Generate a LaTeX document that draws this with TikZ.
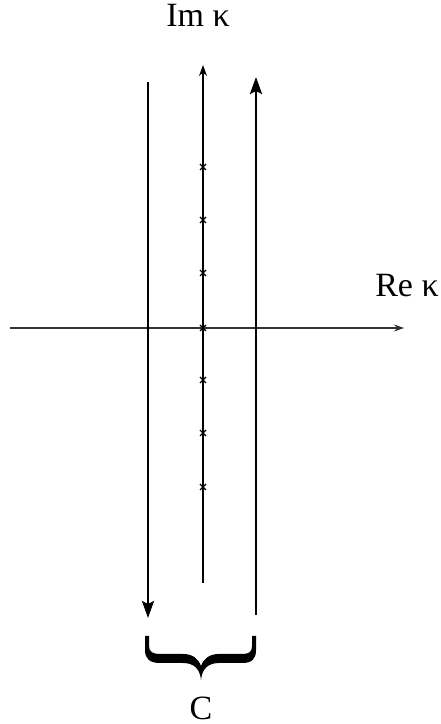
\documentclass[tikz,border=0pt]{standalone}
\usepackage{fontspec}
\setmainfont{Liberation Serif}
\usetikzlibrary{arrows.meta}

\begin{document}
\begin{tikzpicture}[x=0.5pt,y=0.5pt,font=\fontsize{17}{20}\selectfont,>=Stealth]
    \useasboundingbox (0,0) rectangle (440,724);
    % axes
    \coordinate (reL) at (10,396);
    \coordinate (reR) at (404,396);
    \coordinate (imB) at (203,141);
    \coordinate (imT) at (203,659);
    \draw[line width=0.6pt,-{Stealth[length=5pt,width=3.5pt]},black!80] (reL)--(reR);
    \draw[line width=0.6pt,-{Stealth[length=5.5pt,width=4pt]}] (imB)--(imT);
    \node (im) at (198,709) {Im κ};
    \node (re) at (407,438) {Re κ};
    % poles on the imaginary axis
    \foreach \y in {237,291,344,396,451,504,557}
      \draw[line width=0.7pt] (200,\y-3)--(206,\y+3) (200,\y+3)--(206,\y-3);
    % contour
    \coordinate (cLt) at (148,642);
    \coordinate (cLb) at (148,106);
    \coordinate (cRb) at (256,109);
    \coordinate (cRt) at (256,647);
    \draw[line width=1.2pt,-{Stealth[length=8.5pt,width=6pt,inset=1.5pt]}] (cLt)--(cLb);
    \draw[line width=1.2pt,-{Stealth[length=8.5pt,width=6pt,inset=1.5pt]}] (cRb)--(cRt);
    % brace under the contour
    \fill (145,88) -- (145,74) .. controls (145,65) and (150,61) .. (160,61) -- (183,61)
      .. controls (194,61) and (200,55) .. (201,44) .. controls (202,55) and (208,61) .. (219,61)
      -- (242,61) .. controls (252,61) and (256,65) .. (256,74) -- (256,88) -- (252,88) -- (252,78)
      .. controls (252,72) and (249,70) .. (242,70) -- (219,70) .. controls (210,70) and (204,66) .. (201,58)
      .. controls (198,66) and (192,70) .. (183,70) -- (160,70) .. controls (153,70) and (149,72) .. (149,78)
      -- (149,88) -- cycle;
    \node (cc) at (201,16) {C};
  \end{tikzpicture}
\end{document}
